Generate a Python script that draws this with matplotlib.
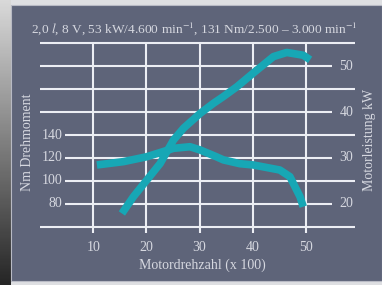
import numpy as np
import matplotlib.pyplot as plt
from matplotlib.patches import Rectangle

# Leistung (kW) ueber Drehzahl (x 100 min^-1)
rpm_power = [15.4, 17.6, 20.1, 22.6, 25.1, 27.0, 30.1, 32.6, 34.5, 37.0, 40.1, 42.0, 43.9, 46.4, 49.5, 50.8]
power_kw = [17.9, 21.6, 25.2, 28.8, 33.9, 36.5, 39.7, 41.9, 43.4, 45.5, 48.5, 50.3, 52.1, 53.0, 52.4, 51.4]

# Drehmoment (Nm) ueber Drehzahl
rpm_torque = [10.7, 15.7, 20.1, 25.1, 28.2, 30.1, 33.2, 34.5, 37.6, 40.1, 45.1, 47.0, 48.9, 49.5]
torque_nm = [113.9, 116.8, 121.1, 128.4, 129.8, 127.0, 121.0, 118.3, 115.0, 113.9, 109.5, 103.7, 86.2, 77.5]

x_ticks = [10, 20, 30, 40, 50]
kw_ticks = [20, 30, 40, 50]
nm_ticks = [80, 100, 120, 140]
grid_kw = [15, 20, 25, 30, 35, 40, 45, 50, 55]

title = "2,0 $l$, 8 V, 53 kW/4.600 min$^{-1}$, 131 Nm/2.500 – 3.000 min$^{-1}$"

bg = '#5e6479'
fg = '#d6d8e0'
grid = '#eceef4'
teal = '#17a7b5'

plt.rcParams['font.family'] = ['Liberation Serif', 'DejaVu Serif']
plt.rcParams['mathtext.fontset'] = 'stix'

fig = plt.figure(figsize=(3.82, 2.85), dpi=100)
fig.patch.set_facecolor('#dedfe2')

# Hintergrund: Panel + dunkler Rand links
back = fig.add_axes([0, 0, 1, 1])
back.set_xlim(0, 382)
back.set_ylim(285, 0)
back.axis('off')
grad = np.linspace(0.85, 0.15, 100).reshape(-1, 1)
back.imshow(grad, extent=[0, 11, 285, 0], cmap='gray', vmin=0, vmax=1, aspect='auto')
back.add_patch(Rectangle((11, 5), 371, 276, facecolor=bg, edgecolor='#b8bac4', lw=0.8))

ax = fig.add_axes([40 / 382, 52 / 285, 315 / 382, 189.7 / 285])
ax.set_xlim(0, 59.24)
ax.set_ylim(13.64, 55)
ax.axis('off')

ax2 = ax.twinx()
ax2.set_ylim(13.64 * 4, 55 * 4)
ax2.axis('off')

# Gitter
for k in grid_kw:
    left = 4.7 if k * 4 in nm_ticks else 0
    right = 55.0 if k in kw_ticks else 59.24
    ax.hlines(k, left, right, color=grid, lw=1.5, clip_on=False)
ax.vlines(x_ticks, 13.64, 55, color=grid, lw=1.5)

ax.plot(rpm_power, power_kw, color=teal, lw=5.5, solid_capstyle='butt', solid_joinstyle='round')
ax2.plot(rpm_torque, torque_nm, color=teal, lw=5.5, solid_capstyle='butt', solid_joinstyle='round')

for x in x_ticks:
    ax.text(x, 10.4, str(x), ha='center', va='center', color=fg, fontsize=10, clip_on=False)
for k in kw_ticks:
    ax.text(56.3, k, str(k), ha='left', va='center', color=fg, fontsize=10)
for n in nm_ticks:
    ax2.text(4.2, n, str(n), ha='right', va='center', color=fg, fontsize=10)

ax.text(30.5, 6.7, 'Motordrehzahl (x 100)', ha='center', va='center', color=fg, fontsize=10, clip_on=False)
fig.text(28 / 382, 1 - 142 / 285, 'Nm Drehmoment', rotation=90, ha='center', va='center', color=fg, fontsize=10)
fig.text(370 / 382, 1 - 140 / 285, 'Motorleistung kW', rotation=90, ha='center', va='center', color=fg, fontsize=10)
fig.text(194 / 382, 1 - 29 / 285, title, ha='center', va='center', color=fg, fontsize=9.6)

fig.savefig('out.png', dpi=100, facecolor=fig.get_facecolor())
